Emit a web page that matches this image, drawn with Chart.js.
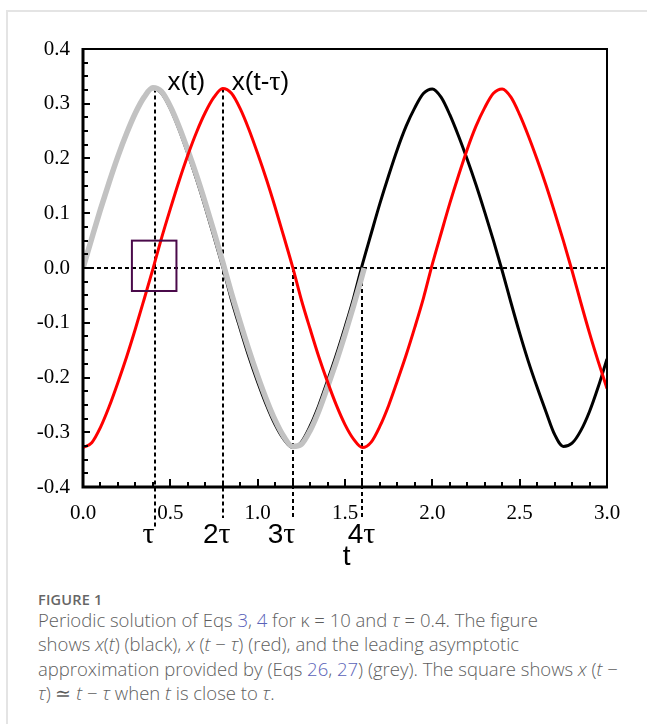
<!DOCTYPE html>
<html>
<head>
<meta charset="utf-8">
<script src="https://cdn.jsdelivr.net/npm/chart.js@4.4.1/dist/chart.umd.min.js"></script>
<style>
  html, body { margin: 0; padding: 0; background: #fff; overflow: hidden; }
  body { width: 647px; height: 724px; position: relative; }
  #card { position: absolute; left: 6px; top: 10px; width: 700px; height: 760px;
          border-top: 2px solid #e4e4e4; border-left: 2px solid #e4e4e4; }
  #chartBox { position: absolute; left: 0; top: 0; width: 647px; height: 580px; }
  #caption { position: absolute; left: 38px; top: 591px; width: 610px;
             font-family: "Open Sans", Lato, sans-serif; color: #5e5e5e; }
  #caption .fig { font-size: 14.5px; font-weight: 600; letter-spacing: 0.2px; line-height: 17px; color: #666; }
  #caption .txt { font-size: 18.5px; font-weight: 300; line-height: 24.3px; white-space: nowrap; }
  #caption a { color: #5a62b8; text-decoration: none; }
</style>
</head>
<body>
<div id="card"></div>
<div id="chartBox"><canvas id="chartContainer" width="647" height="580"></canvas></div>
<div id="caption">
  <div class="fig">FIGURE 1</div>
  <div class="txt">Periodic solution of Eqs <a>3</a>, <a>4</a> for κ = 10 and <i>τ</i> = 0.4. The figure<br>shows <i>x</i>(<i>t</i>) (black), <i>x</i> (<i>t</i> − <i>τ</i>) (red), and the leading asymptotic<br>approximation provided by (Eqs <a>26</a>, <a>27</a>) (grey). The square shows <i>x</i> (<i>t</i> −<br><i>τ</i>) ≃ <i>t</i> − <i>τ</i> when <i>t</i> is close to <i>τ</i>.</div>
</div>
<script>
// time samples, step 0.05
const tValues = [
  0.00, 0.05, 0.10, 0.15, 0.20, 0.25, 0.30, 0.35, 0.40, 0.45,
  0.50, 0.55, 0.60, 0.65, 0.70, 0.75, 0.80, 0.85, 0.90, 0.95,
  1.00, 1.05, 1.10, 1.15, 1.20, 1.25, 1.30, 1.35, 1.40, 1.45,
  1.50, 1.55, 1.60, 1.65, 1.70, 1.75, 1.80, 1.85, 1.90, 1.95,
  2.00, 2.05, 2.10, 2.15, 2.20, 2.25, 2.30, 2.35, 2.40, 2.45,
  2.50, 2.55, 2.60, 2.65, 2.70, 2.75, 2.80, 2.85, 2.90, 2.95, 3.00
];

// x(t), black
const xBlack = [
  0.000, 0.055, 0.108, 0.159, 0.206, 0.248, 0.284, 0.312, 0.328, 0.319,
  0.291, 0.253, 0.209, 0.162, 0.111, 0.057, 0.002, -0.058, -0.111, -0.162,
  -0.208, -0.250, -0.286, -0.313, -0.328, -0.318, -0.289, -0.251, -0.206, -0.159,
  -0.108, -0.054, 0.007, 0.063, 0.118, 0.169, 0.217, 0.259, 0.293, 0.319,
  0.327, 0.312, 0.280, 0.241, 0.198, 0.152, 0.102, 0.050, -0.005, -0.063,
  -0.119, -0.171, -0.218, -0.262, -0.304, -0.326, -0.320, -0.297, -0.262, -0.217, -0.166
];

// x(t - tau), red
const xDelayed = [
  -0.328, -0.319, -0.291, -0.253, -0.209, -0.162, -0.111, -0.057, -0.002, 0.055,
  0.108, 0.159, 0.206, 0.248, 0.284, 0.312, 0.328, 0.319, 0.291, 0.253,
  0.209, 0.162, 0.111, 0.057, 0.002, -0.058, -0.111, -0.162, -0.208, -0.250,
  -0.286, -0.313, -0.328, -0.318, -0.289, -0.251, -0.206, -0.159, -0.108, -0.054,
  0.007, 0.063, 0.118, 0.169, 0.217, 0.259, 0.293, 0.319, 0.327, 0.312,
  0.280, 0.241, 0.198, 0.152, 0.102, 0.050, -0.005, -0.063, -0.119, -0.171, -0.220
];

// leading asymptotic approximation, grey (only up to 4 tau)
const tGrey = [
  0.00, 0.05, 0.10, 0.15, 0.20, 0.25, 0.30, 0.35, 0.40, 0.45,
  0.50, 0.55, 0.60, 0.65, 0.70, 0.75, 0.80, 0.85, 0.90, 0.95,
  1.00, 1.05, 1.10, 1.15, 1.20, 1.25, 1.30, 1.35, 1.40, 1.45,
  1.50, 1.55, 1.60, 1.61
];
const xGrey = [
  0.000, 0.054, 0.107, 0.157, 0.204, 0.246, 0.283, 0.312, 0.329, 0.322,
  0.295, 0.258, 0.215, 0.169, 0.119, 0.066, 0.011, -0.046, -0.099, -0.150,
  -0.197, -0.240, -0.278, -0.308, -0.326, -0.322, -0.297, -0.261, -0.217, -0.171,
  -0.121, -0.068, -0.012, 0.000
];

// dashed markers at tau, 2tau, 3tau, 4tau
const tauMarks = [0.41, 0.80, 1.20, 1.595];
const tauMarkTop = [0.328, 0.328, 0, 0];
const tauLabels = ['', '2', '3', '4'];

// the square around (tau, 0)
const squareT = [0.28, 0.535];
const squareX = [-0.042, 0.05];

const xTicks = [0, 0.5, 1, 1.5, 2, 2.5, 3];
const yTicks = [-0.4, -0.3, -0.2, -0.1, 0, 0.1, 0.2, 0.3, 0.4];

const toPoints = (ts, xs) => ts.map((t, i) => ({ x: t, y: xs[i] }));

const figureExtras = {
  id: 'figureExtras',
  beforeDatasetsDraw(chart) {
    const { ctx, scales: { x, y } } = chart;
    const bottom = chart.chartArea.bottom;
    ctx.save();
    ctx.strokeStyle = '#000';
    ctx.lineWidth = 2;
    ctx.setLineDash([4, 3]);
    ctx.beginPath();
    ctx.moveTo(x.getPixelForValue(0), y.getPixelForValue(0));
    ctx.lineTo(x.getPixelForValue(3), y.getPixelForValue(0));
    ctx.stroke();
    const below = [41, 31, 31, 30];
    tauMarks.forEach((t, i) => {
      const px = Math.round(x.getPixelForValue(t));
      ctx.beginPath();
      ctx.moveTo(px, y.getPixelForValue(tauMarkTop[i]));
      ctx.lineTo(px, bottom + below[i]);
      ctx.stroke();
    });
    ctx.restore();
  },
  afterDatasetsDraw(chart) {
    const { ctx, chartArea: a, scales: { x, y } } = chart;
    ctx.save();

    // square
    ctx.strokeStyle = '#4a0a4a';
    ctx.lineWidth = 2;
    const sx0 = x.getPixelForValue(squareT[0]), sx1 = x.getPixelForValue(squareT[1]);
    const sy0 = y.getPixelForValue(squareX[1]), sy1 = y.getPixelForValue(squareX[0]);
    ctx.strokeRect(sx0, sy0, sx1 - sx0, sy1 - sy0);

    // frame
    ctx.strokeStyle = '#000';
    ctx.lineWidth = 2;
    ctx.beginPath();
    ctx.moveTo(a.left, a.top);
    ctx.lineTo(a.right, a.top);
    ctx.lineTo(a.right, a.bottom);
    ctx.stroke();
    ctx.lineWidth = 3;
    ctx.beginPath();
    ctx.moveTo(a.left, a.top - 1);
    ctx.lineTo(a.left, a.bottom);
    ctx.lineTo(a.right + 1, a.bottom);
    ctx.stroke();

    // inward ticks
    ctx.lineWidth = 2;
    for (let k = 1; k < 32; k++) {
      const v = -0.4 + k * 0.025;
      const py = Math.round(y.getPixelForValue(v));
      const len = k % 4 === 0 ? 7 : 5;
      ctx.beginPath();
      ctx.moveTo(a.left, py);
      ctx.lineTo(a.left + len, py);
      ctx.stroke();
    }
    for (let k = 1; k < 30; k++) {
      const px = Math.round(x.getPixelForValue(k * 0.1));
      const len = k % 5 === 0 ? 8 : 5;
      ctx.beginPath();
      ctx.moveTo(px, a.bottom);
      ctx.lineTo(px, a.bottom - len);
      ctx.stroke();
    }

    // curve labels
    ctx.fillStyle = '#000';
    ctx.textBaseline = 'alphabetic';
    ctx.textAlign = 'left';
    const sans = '"Liberation Sans", Arial, sans-serif';
    const serif = '"Liberation Serif", "Times New Roman", serif';
    const labY = y.getPixelForValue(0.326);
    ctx.font = '26px ' + sans;
    ctx.fillText('x(t)', x.getPixelForValue(0.484), labY);
    let lx = x.getPixelForValue(0.852);
    ctx.fillText('x(t-', lx, labY);
    lx += ctx.measureText('x(t-').width;
    ctx.font = '28px ' + serif;
    ctx.fillText('τ', lx, labY);
    lx += ctx.measureText('τ').width;
    ctx.font = '26px ' + sans;
    ctx.fillText(')', lx, labY);

    // tau labels under the axis
    const shift = [-6, -6, -11, 0];
    tauMarks.forEach((t, i) => {
      const cx = x.getPixelForValue(t) + shift[i];
      ctx.font = '28px ' + sans;
      const w1 = ctx.measureText(tauLabels[i]).width;
      ctx.font = '30px ' + serif;
      const w2 = ctx.measureText('τ').width;
      const left = cx - (w1 + w2) / 2;
      ctx.font = '28px ' + sans;
      ctx.fillText(tauLabels[i], left, a.bottom + 56);
      ctx.font = '30px ' + serif;
      ctx.fillText('τ', left + w1, a.bottom + 56);
    });

    // axis title
    ctx.textAlign = 'center';
    ctx.font = '28px ' + sans;
    ctx.fillText('t', x.getPixelForValue(1.51), a.bottom + 78);
    ctx.restore();
  }
};

function createFigure() {
  const tickFont = { family: '"Liberation Serif", "Times New Roman", serif', size: 21 };

  const chartOptions = {
    type: 'line',
    data: {
      datasets: [
        {
          label: 'x(t-τ)',
          data: toPoints(tValues, xDelayed),
          borderColor: '#ff0000',
          borderWidth: 3,
          order: 0,
        },
        {
          label: 'approximation',
          data: toPoints(tGrey, xGrey),
          borderColor: '#c2c2c2',
          borderWidth: 5.5,
          order: 1,
        },
        {
          label: 'x(t)',
          data: toPoints(tValues, xBlack),
          borderColor: '#000000',
          borderWidth: 3,
          order: 2,
        },
      ],
    },
    options: {
      responsive: false,
      devicePixelRatio: 1,
      animation: false,
      parsing: false,
      elements: {
        point: { radius: 0 },
        line: { cubicInterpolationMode: 'monotone', fill: false },
      },
      layout: { padding: { top: 49, right: 40, left: 0, bottom: 0 } },
      plugins: { legend: { display: false }, tooltip: { enabled: false } },
      scales: {
        x: {
          type: 'linear',
          min: 0,
          max: 3,
          afterFit: (s) => { s.height = 93; },
          afterBuildTicks: (s) => { s.ticks = xTicks.map(v => ({ value: v })); },
          grid: { display: false, drawTicks: false },
          border: { display: false },
          ticks: {
            padding: 14,
            color: '#000',
            font: tickFont,
            maxRotation: 0,
            callback: (v) => Number(v).toFixed(1),
          },
        },
        y: {
          type: 'linear',
          min: -0.4,
          max: 0.4,
          afterFit: (s) => { s.width = 83; },
          afterBuildTicks: (s) => { s.ticks = yTicks.map(v => ({ value: v })); },
          grid: { display: false, drawTicks: false },
          border: { display: false },
          ticks: {
            padding: 13,
            color: '#000',
            font: tickFont,
            callback: (v) => Number(v).toFixed(1),
          },
        },
      },
    },
    plugins: [figureExtras],
  };

  new Chart(document.getElementById('chartContainer'), chartOptions);
}

createFigure();
</script>
</body>
</html>
